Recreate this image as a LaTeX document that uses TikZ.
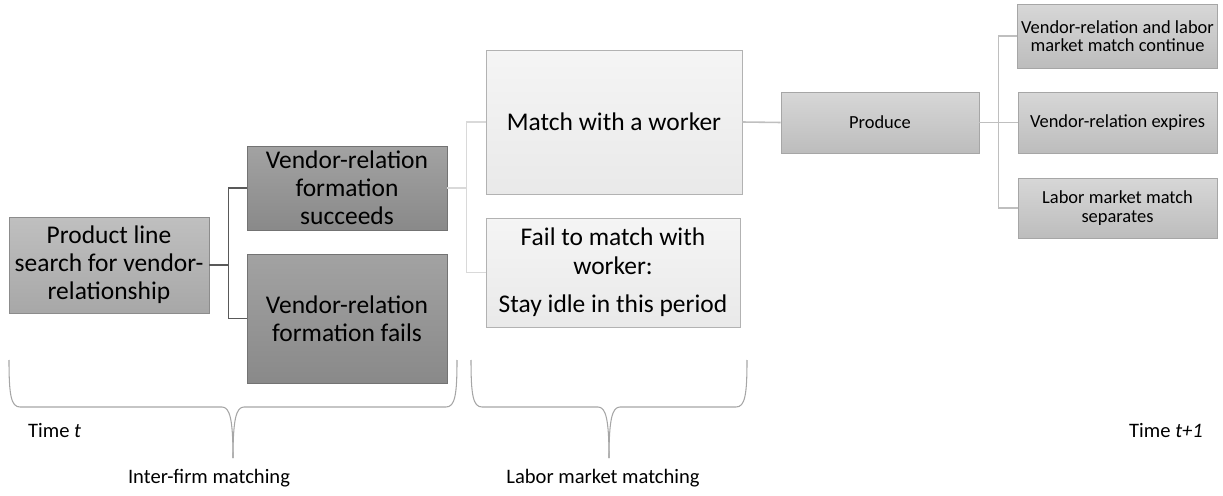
\documentclass[tikz,border=0pt]{standalone}
\usepackage{fontspec}
\setmainfont{Carlito}
\usepackage{tikz}
\usetikzlibrary{positioning}

\definecolor{darkbox}{HTML}{929292}
\definecolor{midbox}{HTML}{B4B4B4}
\definecolor{lightbox}{HTML}{EEEEEE}
\definecolor{prodbox}{HTML}{CDCDCD}

\begin{document}
\begin{tikzpicture}[x=0.02cm,y=-0.02cm,
  big node/.style={rectangle,draw,align=center,inner sep=2pt,font=\fontsize{14.5}{16}\selectfont},
  small node/.style={rectangle,draw=black!35,align=center,inner sep=2pt,
    top color=prodbox!80!white,bottom color=prodbox!92!black,
    minimum width=3.98cm,font=\fontsize{10.5}{10.5}\selectfont},
  label node/.style={font=\fontsize{11.7}{14}\selectfont},
  brace/.style={draw=black!35,line width=0.6pt}]

  \useasboundingbox (0,0) rectangle (1223,496);

  \node[big node,draw=black!45,top color=midbox!85!white,bottom color=midbox!93!black,
    minimum width=4cm,minimum height=1.92cm] (search) at (109,265)
    {Product line\\search for vendor-\\relationship};

  \node[big node,draw=black!55,top color=darkbox!85!white,bottom color=darkbox!94!black,
    minimum width=4cm,minimum height=1.68cm] (succ) at (347,188)
    {Vendor-relation\\formation\\succeeds};
  \node[big node,draw=black!55,top color=darkbox!85!white,bottom color=darkbox!94!black,
    minimum width=4cm,minimum height=2.58cm] (fail) at (347,318.5)
    {Vendor-relation\\formation fails};

  \node[big node,draw=black!30,top color=lightbox!60!white,bottom color=lightbox!98!black,
    minimum width=5.12cm,minimum height=2.88cm] (match) at (614,122)
    {Match with a worker};
  \node[big node,draw=black!30,top color=lightbox!60!white,bottom color=lightbox!98!black,
    minimum width=5.08cm,minimum height=2.18cm] (idle) at (613,272.5)
    {Fail to match with\\worker:\\[6pt]Stay idle in this period};

  \node[small node,minimum width=3.96cm,minimum height=1.22cm] (produce) at (880,122.5) {Produce};

  \node[small node,minimum height=1.28cm] (cont) at (1117.5,36)
    {Vendor-relation and labor\\market match continue};
  \node[small node,minimum height=1.22cm] (expire) at (1117.5,122.5)
    {Vendor-relation expires};
  \node[small node,minimum height=1.2cm] (sep) at (1117.5,208)
    {Labor market match\\separates};

  \draw[black!65,line width=0.9pt] (search.east) -- ++(19,0) |- (succ.west);
  \draw[black!65,line width=0.9pt] (search.east) -- ++(19,0) |- (fail.west);

  \draw[black!15,line width=0.9pt] (succ.east) -- ++(19,0) |- (match.west);
  \draw[black!15,line width=0.9pt] (succ.east) -- ++(19,0) |- (idle.west);
  \draw[black!25,line width=0.9pt] (match.east) -- (produce.west);

  \foreach \n in {cont,expire,sep}
    \draw[black!25,line width=0.9pt] (produce.east) -- ++(19,0) |- (\n.west);

  % braces under the two matching stages
  \draw[brace] (9,360) .. controls (9,395) and (11,407) .. (20,407) -- (222,407)
    .. controls (230,407) and (233,420) .. (233,458);
  \draw[brace] (233,458) .. controls (233,420) and (236,407) .. (244,407) -- (446,407)
    .. controls (455,407) and (457,395) .. (457,360);
  \draw[brace] (471,360) .. controls (471,395) and (473,407) .. (482,407) -- (598,407)
    .. controls (606,407) and (609,420) .. (609,458);
  \draw[brace] (609,458) .. controls (609,420) and (612,407) .. (620,407) -- (736,407)
    .. controls (745,407) and (747,395) .. (747,360);

  \node[label node,anchor=west] (tt) at (22,431) {Time \textit{t}};
  \node[label node,anchor=west] (tt1) at (1123,431) {Time \textit{t+1}};
  \node[label node] (interfirm) at (209,478) {Inter-firm matching};
  \node[label node] (labor) at (603,478) {Labor market matching};

\end{tikzpicture}
\end{document}
